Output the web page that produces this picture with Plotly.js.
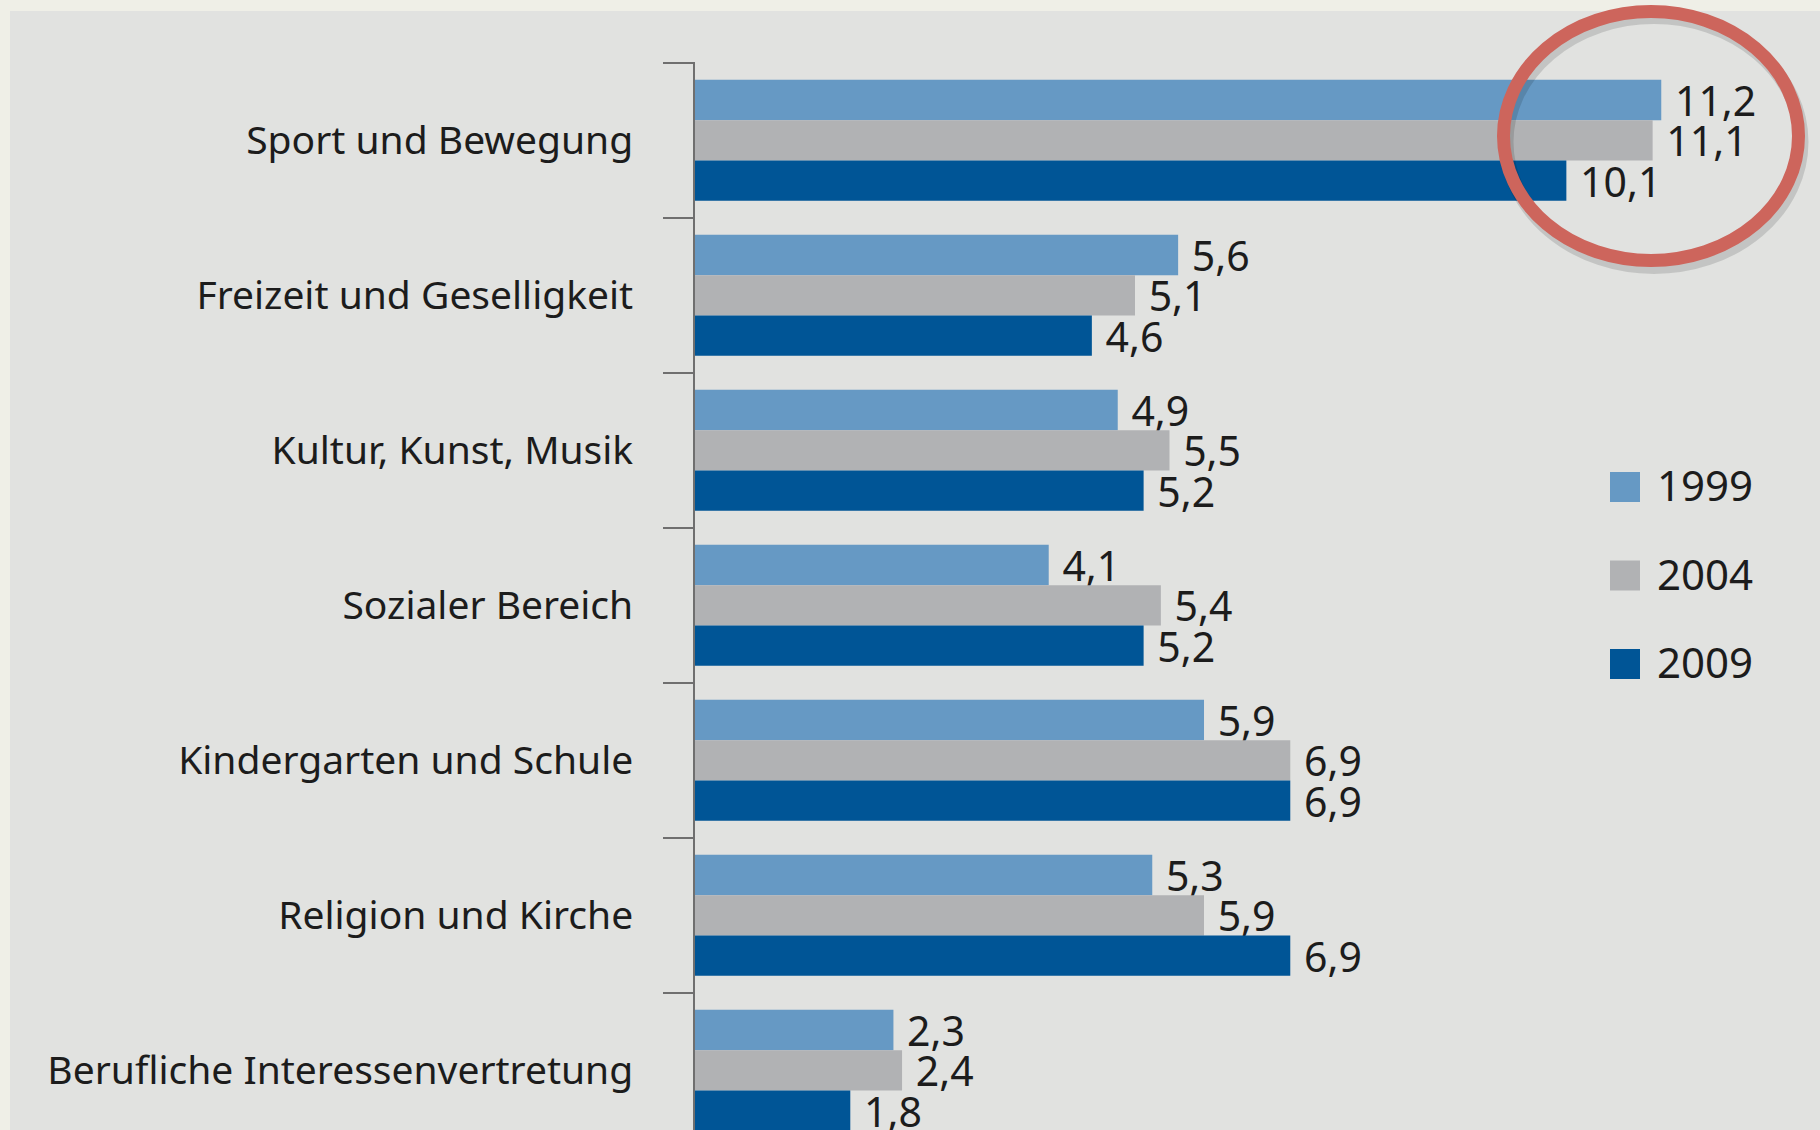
<!DOCTYPE html>
<html>
<head>
<meta charset="utf-8">
<script src="https://cdn.plot.ly/plotly-3.0.1.min.js"></script>
<style>
html,body{margin:0;padding:0;background:#efefe7;}
#chart{width:1820px;height:1130px;}
</style>
</head>
<body>
<div id="chart"></div>
<script>
// ---- data ----
const categories = [
  'Sport und Bewegung',
  'Freizeit und Geselligkeit',
  'Kultur, Kunst, Musik',
  'Sozialer Bereich',
  'Kindergarten und Schule',
  'Religion und Kirche',
  'Berufliche Interessenvertretung'
];
const seriesNames = ['1999', '2004', '2009'];
const values1999 = [11.2, 5.6, 4.9, 4.1, 5.9, 5.3, 2.3];
const values2004 = [11.1, 5.1, 5.5, 5.4, 6.9, 5.9, 2.4];
const values2009 = [10.1, 4.6, 5.2, 5.2, 6.9, 6.9, 1.8];

// ---- styles ----
const seriesColors = ['#6699c4', '#b1b2b4', '#005596'];
const FONT = '"Noto Sans", "Open Sans", sans-serif';
const TEXT = '#1c1c1c';
const W = 1820, H = 1130;
const M = {l: 695, r: 0, t: 62, b: 0};
const PW = W - M.l - M.r, PH = H - M.t - M.b;
const px2x = p => (p - M.l) / PW;
const px2y = p => (H - M.b - p) / PH;

const seriesValues = [values1999, values2004, values2009];
const traces = seriesNames.map((name, i) => ({
  type: 'bar',
  orientation: 'h',
  name: name,
  y: categories,
  x: seriesValues[i],
  marker: {color: seriesColors[i], line: {width: 0}},
  texttemplate: '\u00a0%{x:.1f}',
  textposition: 'outside',
  constraintext: 'none',
  cliponaxis: false,
  textfont: {family: FONT, size: 41, color: TEXT},
  hoverinfo: 'skip'
}));

const shapes = [
  // grey card background (cream strip remains top/left)
  {type: 'rect', xref: 'paper', yref: 'paper', layer: 'below',
   x0: px2x(10), x1: px2x(W), y0: px2y(H), y1: px2y(11),
   fillcolor: '#e1e2e0', line: {width: 0}},
  // shadow of the highlight ellipse
  {type: 'circle', xref: 'paper', yref: 'paper', layer: 'above',
   x0: px2x(1506.5), x1: px2x(1801.5), y0: px2y(267), y1: px2y(17),
   line: {color: 'rgba(0,0,0,0.13)', width: 14}},
  // red highlight ellipse
  {type: 'circle', xref: 'paper', yref: 'paper', layer: 'above',
   x0: px2x(1503.5), x1: px2x(1798.5), y0: px2y(260.5), y1: px2y(11.5),
   line: {color: '#cd655c', width: 13}}
];

// manual legend (large squares)
const annotations = [];
const legTop = 472, legStep = 88.5, sq = 30;
seriesNames.forEach((name, i) => {
  const y0 = legTop + i * legStep;
  shapes.push({type: 'rect', xref: 'paper', yref: 'paper', layer: 'above',
    x0: px2x(1610), x1: px2x(1610 + sq), y0: px2y(y0 + sq), y1: px2y(y0),
    fillcolor: seriesColors[i], line: {width: 0}});
  annotations.push({xref: 'paper', yref: 'paper', x: px2x(1655), y: px2y(y0 + sq / 2 - 2.5),
    xanchor: 'left', yanchor: 'middle', showarrow: false, text: name,
    font: {family: FONT, size: 42, color: TEXT}});
});

const layout = {
  width: W, height: H,
  margin: {l: M.l, r: M.r, t: M.t, b: M.b, pad: 0},
  paper_bgcolor: '#efefe7',
  plot_bgcolor: 'rgba(0,0,0,0)',
  barmode: 'group',
  bargap: 0.22,
  bargroupgap: 0,
  showlegend: false,
  separators: ', ',
  xaxis: {range: [0, 13.04], visible: false, showgrid: false, zeroline: false, fixedrange: true},
  yaxis: {
    type: 'category', categoryorder: 'array', categoryarray: categories,
    range: [-0.505 + PH / 155, -0.505],
    tickson: 'boundaries', ticks: 'outside', ticklen: 30, tickwidth: 2, tickcolor: '#6f6f6f',
    showline: true, linecolor: '#6f6f6f', linewidth: 2,
    showgrid: false, zeroline: false, automargin: false, fixedrange: true,
    ticklabelstandoff: 52,
    tickfont: {family: FONT, size: 39, color: TEXT}
  },
  shapes: shapes,
  annotations: annotations,
  font: {family: FONT, color: TEXT}
};

Plotly.newPlot('chart', traces, layout, {displayModeBar: false, staticPlot: true});
</script>
</body>
</html>
